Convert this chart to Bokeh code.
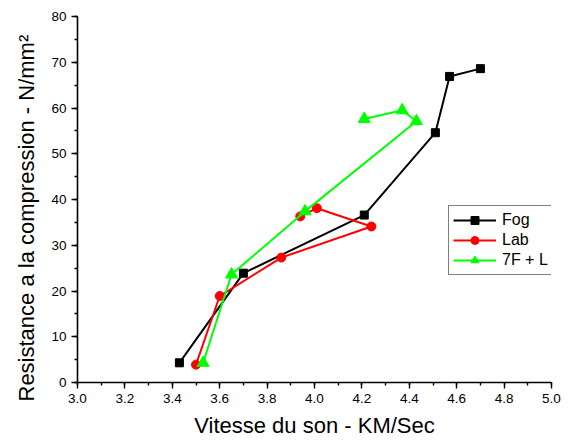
from bokeh.plotting import figure
from bokeh.models import Range1d, SingleIntervalTicker, Legend, Title, NumeralTickFormatter
from bokeh.embed import file_html
from bokeh.resources import INLINE

# Ultrasonic pulse velocity (km/s) vs compressive strength (N/mm2)
fog_x = [3.43, 3.70, 4.21, 4.51, 4.57, 4.70]
fog_y = [4.3, 23.9, 36.6, 54.6, 66.9, 68.6]

lab_x = [3.50, 3.60, 3.86, 4.24, 4.01, 3.94]
lab_y = [3.9, 18.9, 27.3, 34.1, 38.1, 36.3]

f7l_x = [3.53, 3.65, 3.96, 4.43, 4.37, 4.21]
f7l_y = [4.3, 23.6, 37.4, 57.1, 59.5, 57.6]

series_names = ["Fog", "Lab", "7F + L"]

FONT = "Liberation Sans"

p = figure(
    width=568, height=444,
    x_range=Range1d(3.0, 5.0), y_range=Range1d(0, 80),
    output_backend="svg", toolbar_location=None,
    min_border_left=77, min_border_right=17,
    min_border_top=16, min_border_bottom=62,
)
p.outline_line_color = None
p.xgrid.visible = False
p.ygrid.visible = False
p.background_fill_color = "white"
p.border_fill_color = "white"

# axes
p.xaxis.ticker = SingleIntervalTicker(interval=0.2, num_minor_ticks=2)
p.yaxis.ticker = SingleIntervalTicker(interval=10, num_minor_ticks=2)
for ax in (p.xaxis[0], p.yaxis[0]):
    ax.axis_line_color = "black"
    ax.axis_line_width = 1.6
    ax.major_tick_line_color = "black"
    ax.major_tick_line_width = 1.4
    ax.minor_tick_line_color = "black"
    ax.minor_tick_line_width = 1.4
    ax.major_tick_in = 0
    ax.major_tick_out = 6
    ax.minor_tick_in = 0
    ax.minor_tick_out = 3
    ax.major_label_text_font = FONT
    ax.major_label_text_font_size = "13.5px"
    ax.major_label_text_color = "black"
    ax.major_label_standoff = 5

p.xaxis.formatter = NumeralTickFormatter(format="0.0")
p.yaxis.formatter = NumeralTickFormatter(format="0")

p.xaxis.axis_label = "Vitesse du son - KM/Sec"
p.xaxis.axis_label_text_font = FONT
p.xaxis.axis_label_text_font_size = "22px"
p.xaxis.axis_label_text_font_style = "normal"
p.xaxis.axis_label_text_color = "black"
p.xaxis.axis_label_standoff = 7

# vertical axis title, started slightly below the frame bottom
ytitle = Title(
    text="Resistance a la compression - N/mm\u00b2",
    align="left", offset=-19, standoff=20,
    text_font=FONT, text_font_size="22px", text_font_style="normal",
    text_color="black",
)
p.add_layout(ytitle, "left")

# series: connecting lines with filled symbols
styles = [
    (fog_x, fog_y, "#000000", "square", 8),
    (lab_x, lab_y, "#ff0000", "circle", 9),
    (f7l_x, f7l_y, "#00ff00", "triangle", 12),
]
items = []
for (xs, ys, color, marker, size), name in zip(styles, series_names):
    ln = p.line(xs, ys, line_color=color, line_width=2)
    sc = p.scatter(xs, ys, marker=marker, size=size,
                   fill_color=color, line_color=color)
    items.append((name, [ln, sc]))

legend = Legend(
    items=items, location=(371, 107),
    glyph_width=43, glyph_height=20, label_height=20,
    label_standoff=6, spacing=0, padding=4, margin=0,
    label_text_font=FONT, label_text_font_size="16px",
    label_text_color="black",
    border_line_color="black", border_line_width=1,
    background_fill_color="white", background_fill_alpha=1.0,
)
p.add_layout(legend)

open("out.html", "w").write(file_html(p, INLINE))
